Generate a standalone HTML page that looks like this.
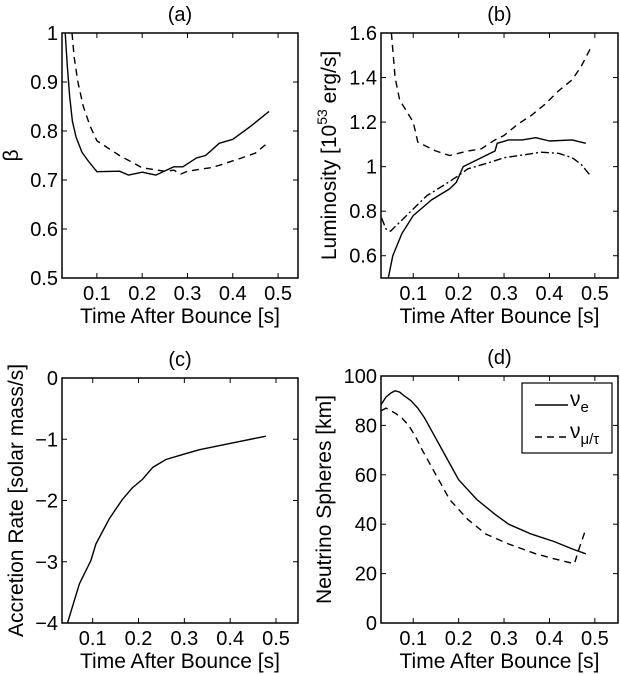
<!DOCTYPE html>
<html><head><meta charset="utf-8"><style>
html,body{margin:0;padding:0;background:#fff;}
svg{display:block;font-family:"Liberation Sans",sans-serif;}
</style></head><body>
<svg id="fig" width="620" height="674" viewBox="0 0 620 674"></svg>
<script>
// Panel (a) beta
const aTime1=[0.030,0.035,0.040,0.046,0.054,0.067,0.08,0.10,0.15,0.17,0.20,0.23,0.27,0.29,0.32,0.34,0.37,0.40,0.44,0.48];
const aBeta1=[1.0,0.93,0.87,0.82,0.788,0.757,0.74,0.717,0.718,0.710,0.716,0.710,0.727,0.727,0.745,0.750,0.775,0.783,0.810,0.840];
const aTime2=[0.045,0.05,0.058,0.07,0.085,0.10,0.15,0.20,0.25,0.27,0.285,0.30,0.35,0.37,0.42,0.45,0.48];
const aBeta2=[1.0,0.95,0.90,0.85,0.81,0.78,0.75,0.725,0.718,0.720,0.712,0.718,0.725,0.730,0.745,0.755,0.778];
// Panel (b) luminosity
const bTime1=[0.045,0.055,0.075,0.10,0.14,0.18,0.195,0.21,0.25,0.27,0.28,0.285,0.31,0.34,0.37,0.40,0.45,0.48];
const bLum1=[0.5,0.6,0.7,0.78,0.85,0.90,0.93,1.0,1.04,1.06,1.07,1.105,1.12,1.12,1.13,1.115,1.12,1.105];
const bTime2=[0.052,0.06,0.07,0.10,0.11,0.15,0.18,0.20,0.22,0.25,0.28,0.30,0.33,0.36,0.39,0.42,0.45,0.47,0.49];
const bLum2=[1.6,1.4,1.3,1.2,1.11,1.07,1.05,1.06,1.07,1.08,1.12,1.14,1.19,1.23,1.28,1.34,1.39,1.45,1.53];
const bTime3=[0.03,0.04,0.05,0.07,0.10,0.13,0.17,0.20,0.22,0.27,0.30,0.35,0.38,0.42,0.45,0.47,0.49];
const bLum3=[0.77,0.72,0.71,0.75,0.81,0.87,0.92,0.96,0.99,1.02,1.04,1.055,1.065,1.06,1.04,1.01,0.96];
// Panel (c) accretion
const cTime=[0.045,0.071,0.096,0.107,0.136,0.165,0.187,0.209,0.231,0.26,0.296,0.333,0.405,0.478];
const cRate=[-4,-3.36,-2.98,-2.71,-2.30,-1.98,-1.79,-1.65,-1.46,-1.33,-1.25,-1.17,-1.06,-0.95];
// Panel (d) neutrino spheres
const dTime1=[0.028,0.04,0.05,0.06,0.07,0.08,0.095,0.11,0.125,0.14,0.17,0.20,0.24,0.28,0.31,0.36,0.41,0.45,0.48];
const dRad1=[88,91.5,93,94,93.5,92,90,87,83,78,68,58,50,44,40,36,33,30,28];
const dTime2=[0.03,0.04,0.06,0.075,0.09,0.105,0.12,0.15,0.18,0.22,0.26,0.31,0.37,0.41,0.455,0.465,0.48];
const dRad2=[86,87,85,83,80,75.5,70,60,50,42,36,32,28,26,24,30,38];
const xTicks=[0.1,0.2,0.3,0.4,0.5];

const NS="http://www.w3.org/2000/svg";
const svg=document.getElementById('fig');
function mk(tag,attrs,parent){const e=document.createElementNS(NS,tag);for(const k in attrs)e.setAttribute(k,attrs[k]);(parent||svg).appendChild(e);return e;}

function panel(cfg){
  const g=mk('g',{});
  
  
  const {L,R,T,B,x0,x1,y0,y1}=cfg;
  const sx=v=>L+(v-x0)/(x1-x0)*(R-L);
  const sy=v=>B-(v-y0)/(y1-y0)*(B-T);
  const t=mk('text',{x:(L+R)/2,y:T-12,'text-anchor':'middle','font-size':20},g);
  t.textContent=cfg.title;
  
  
  xTicks.forEach(v=>{
    const x=sx(v);
    mk('line',{x1:x,x2:x,y1:B,y2:B-5,stroke:'#000','stroke-width':1},g);
    mk('line',{x1:x,x2:x,y1:T,y2:T+5,stroke:'#000','stroke-width':1},g);
    const tl=mk('text',{x:x,y:B+22,'text-anchor':'middle','font-size':20},g);
    tl.textContent=String(v);
    
    
  });
  cfg.yTicks.forEach((v,i)=>{
    const y=sy(v);
    mk('line',{x1:L,x2:L+5,y1:y,y2:y,stroke:'#000','stroke-width':1},g);
    mk('line',{x1:R,x2:R-5,y1:y,y2:y,stroke:'#000','stroke-width':1},g);
    const tl=mk('text',{x:L-4,y:y+7,'text-anchor':'end','font-size':20},g);
    tl.textContent=cfg.yLabels[i];
    
    
  });
  const xl=mk('text',{x:(L+R)/2,y:B+45,'text-anchor':'middle','font-size':21},g);
  xl.textContent='Time After Bounce [s]';
  
  
  const yl=mk('text',{x:0,y:0,'text-anchor':'middle','font-size':21,transform:`translate(${cfg.ylx},${(T+B)/2}) rotate(-90)`},g);
  yl.innerHTML=cfg.ylabel;
  
  
  const cid='clip-'+cfg.name;
  const cp=mk('clipPath',{id:cid},g);mk('rect',{x:L,y:T,width:R-L,height:B-T},cp);
  cfg.series.forEach(s=>{
    const d=s.x.map((v,i)=>(i?'L':'M')+sx(v).toFixed(1)+','+sy(s.y[i]).toFixed(1)).join(' ');
    const p=mk('path',{d:d,fill:'none',stroke:'#000','stroke-width':1.4,'stroke-linejoin':'round','clip-path':`url(#${cid})`},g);
    if(s.dash)p.setAttribute('stroke-dasharray',s.dash);
    
    
  });
  const box=mk('rect',{x:L,y:T,width:R-L,height:B-T,fill:'none',stroke:'#000','stroke-width':1.5},g);
  
  
  return g;
}

panel({name:'panel-a',title:'(a)',L:62,R:298,T:33,B:278,x0:0.023,x1:0.544,y0:0.5,y1:1.0,
  yTicks:[0.5,0.6,0.7,0.8,0.9,1.0],yLabels:['0.5','0.6','0.7','0.8','0.9','1'],ylx:18,ylabel:'β',
  series:[{name:'beta-solid',x:aTime1,y:aBeta1},{name:'beta-dashed',x:aTime2,y:aBeta2,dash:'7,5'}]});
panel({name:'panel-b',title:'(b)',L:381,R:618,T:33,B:278,x0:0.029,x1:0.551,y0:0.5,y1:1.6,
  yTicks:[0.6,0.8,1.0,1.2,1.4,1.6],yLabels:['0.6','0.8','1','1.2','1.4','1.6'],ylx:336,
  ylabel:'Luminosity [10<tspan dy="-9" font-size="14">53</tspan><tspan dy="9"> erg/s]</tspan>',
  series:[{name:'lum-electron',x:bTime1,y:bLum1},{name:'lum-dashed',x:bTime2,y:bLum2,dash:'7,5'},{name:'lum-dashdot',x:bTime3,y:bLum3,dash:'8,3,2,3'}]});
panel({name:'panel-c',title:'(c)',L:62,R:298,T:378,B:623,x0:0.033,x1:0.548,y0:-4,y1:0,
  yTicks:[-4,-3,-2,-1,0],yLabels:['−4','−3','−2','−1','0'],ylx:23,ylabel:'Accretion Rate [solar mass/s]',
  series:[{name:'accretion-rate',x:cTime,y:cRate}]});
panel({name:'panel-d',title:'(d)',L:381,R:618,T:376,B:623,x0:0.029,x1:0.551,y0:0,y1:100,
  yTicks:[0,20,40,60,80,100],yLabels:['0','20','40','60','80','100'],ylx:331,ylabel:'Neutrino Spheres [km]',
  series:[{name:'sphere-nu-e',x:dTime1,y:dRad1},{name:'sphere-nu-mu-tau',x:dTime2,y:dRad2,dash:'7,5'}]});

// legend
const lg=mk('g',{});


mk('rect',{x:522,y:383,width:90,height:70,fill:'#fff',stroke:'#000','stroke-width':1.2},lg);
mk('line',{x1:535,x2:568,y1:405,y2:405,stroke:'#000','stroke-width':1.4},lg);
mk('line',{x1:535,x2:568,y1:437,y2:437,stroke:'#000','stroke-width':1.4,'stroke-dasharray':'7,5'},lg);
const t1=mk('text',{x:570,y:406,'font-size':21},lg);
t1.innerHTML='ν<tspan dy="6" font-size="15">e</tspan>';


const t2=mk('text',{x:570,y:438,'font-size':21},lg);
t2.innerHTML='ν<tspan dy="6" font-size="15">μ/τ</tspan>';


</script>
</body></html>
